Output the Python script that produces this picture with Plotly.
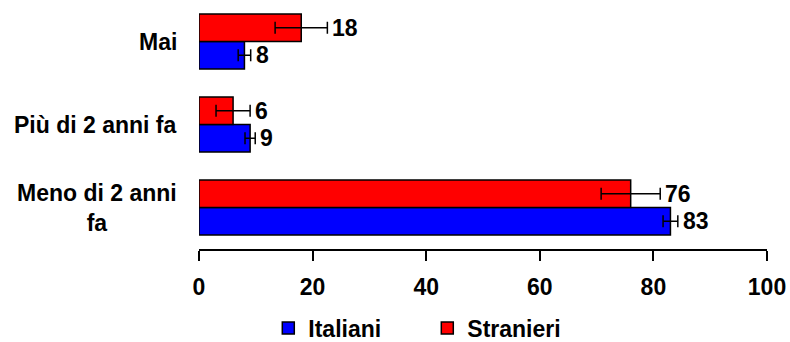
import plotly.graph_objects as go

# Survey categories (bottom to top) and percentages per group
categories = ["Meno di 2 anni fa", "Più di 2 anni fa", "Mai"]
category_labels = ["Meno di 2 anni<br>fa", "Più di 2 anni fa", "Mai"]
italiani = [83, 9, 8]
italiani_err = [1.3, 0.9, 1.1]
stranieri = [76, 6, 18]
stranieri_err = [5.2, 3.0, 4.6]
x_ticks = [0, 20, 40, 60, 80, 100]

FONT = "Liberation Sans, Arial, sans-serif"
FS = 23

fig = go.Figure()
fig.add_trace(go.Bar(
    name="<b>Italiani</b>", y=categories, x=italiani, orientation="h",
    marker=dict(color="#0000ff", line=dict(color="black", width=1.5)),
    error_x=dict(type="data", array=italiani_err, color="black", thickness=1.5, width=6),
))
fig.add_trace(go.Bar(
    name="<b>Stranieri</b>", y=categories, x=stranieri, orientation="h",
    marker=dict(color="#ff0000", line=dict(color="black", width=1.5)),
    error_x=dict(type="data", array=stranieri_err, color="black", thickness=1.5, width=6),
))

annotations = []
# value labels just past each error bar
for vals, errs, shift in ((italiani, italiani_err, -0.165), (stranieri, stranieri_err, 0.165)):
    for cat, v, e in zip(categories, vals, errs):
        annotations.append(dict(
            x=v + e, y=categories.index(cat) + shift, xref="x", yref="y",
            text=f"<b>{v}</b>", showarrow=False, xanchor="left", yanchor="middle",
            xshift=3, font=dict(family=FONT, size=FS, color="black"),
        ))
# category labels, centred line by line
for i, lab in enumerate(category_labels):
    annotations.append(dict(
        x=0, y=i, xref="paper", yref="y", text=f"<b>{lab}</b>", showarrow=False,
        xanchor="right", yanchor="middle", align="center", xshift=-20,
        font=dict(family=FONT, size=FS, color="black"),
    ))

fig.update_layout(
    width=790, height=342,
    margin=dict(l=199, r=23, t=0, b=93),
    paper_bgcolor="white", plot_bgcolor="white",
    barmode="group", bargap=0.34, bargroupgap=0,
    font=dict(family=FONT, size=FS, color="black"),
    showlegend=True,
    legend=dict(orientation="h", x=0.122, xanchor="left",
                yref="container", y=0.041, yanchor="middle",
                font=dict(family=FONT, size=FS, color="black"), itemwidth=30,
                entrywidth=114, entrywidthmode="pixels", traceorder="normal"),
    annotations=annotations,
)
fig.update_xaxes(range=[0, 100], tickvals=x_ticks, ticktext=[f"<b>{t}</b>" for t in x_ticks],
                 showline=True, linecolor="black", linewidth=2, ticks="outside", ticklen=10,
                 tickwidth=2, tickcolor="black", showgrid=False, zeroline=False,
                 ticklabelstandoff=6, automargin=False,
                 tickfont=dict(family=FONT, size=FS, color="black"))
fig.update_yaxes(showticklabels=False, showgrid=False, zeroline=False, showline=False,
                 range=[-0.5, 2.5], automargin=False)

fig.write_html("out.html")
